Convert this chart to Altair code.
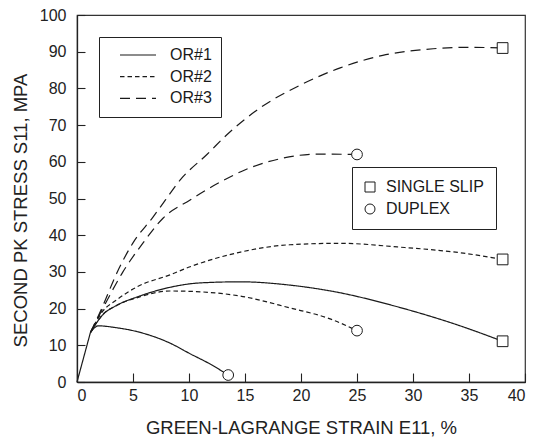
import altair as alt
import pandas as pd

# ---- data (strain %, stress MPa) ----
# shared elastic segment
common_x = [0, 1.2]
common_y = [0, 13.5]

or1_single_x = [1.2, 2.3, 3.5, 5.4, 8.3, 11.0, 14.6, 19.0, 23.0, 28.6, 34.5, 38.0]
or1_single_y = [13.5, 18.3, 20.8, 23.2, 25.8, 27.0, 27.3, 26.4, 24.6, 20.5, 15.0, 11.1]

or1_duplex_x = [1.2, 1.9, 3.5, 5.4, 8.3, 10.1, 12.0, 13.5]
or1_duplex_y = [13.5, 15.3, 14.8, 13.7, 10.6, 7.7, 4.7, 1.9]

or2_single_x = [1.2, 2.3, 3.5, 5.4, 8.3, 10.1, 14.6, 19.0, 23.5, 28.6, 34.5, 38.0]
or2_single_y = [13.5, 19.3, 22.3, 26.0, 29.2, 31.4, 35.4, 37.4, 37.8, 36.8, 35.1, 33.4]

or2_duplex_x = [1.2, 2.3, 3.5, 5.4, 8.3, 10.1, 14.6, 19.0, 22.6, 25.0]
or2_duplex_y = [13.5, 18.4, 20.8, 23.0, 24.8, 24.7, 23.4, 20.2, 17.2, 14.0]

or3_single_x = [1.2, 2.2, 3.6, 5.0, 6.8, 7.9, 9.2, 11.6, 13.6, 16.5, 20.0, 23.5, 27.3, 31.8, 35.0, 38.0]
or3_single_y = [13.5, 20.0, 30.0, 37.9, 45.0, 49.6, 55.0, 62.0, 68.0, 75.0, 81.0, 85.6, 89.0, 90.8, 91.2, 91.0]

or3_duplex_x = [1.2, 2.3, 4.1, 5.9, 7.7, 10.1, 12.8, 15.4, 18.4, 21.4, 25.0]
or3_duplex_y = [13.5, 20.0, 30.0, 37.9, 44.7, 49.6, 54.5, 58.3, 61.0, 62.1, 62.0]

orientations = ["OR#1", "OR#2", "OR#3"]
modes = ["SINGLE SLIP", "DUPLEX"]
x_ticks = [0, 5, 10, 15, 20, 25, 30, 35, 40]
y_ticks = [0, 10, 20, 30, 40, 50, 60, 70, 80, 90, 100]

curves = [
    ("OR#1", "SINGLE SLIP", or1_single_x, or1_single_y),
    ("OR#1", "DUPLEX", or1_duplex_x, or1_duplex_y),
    ("OR#2", "SINGLE SLIP", or2_single_x, or2_single_y),
    ("OR#2", "DUPLEX", or2_duplex_x, or2_duplex_y),
    ("OR#3", "SINGLE SLIP", or3_single_x, or3_single_y),
    ("OR#3", "DUPLEX", or3_duplex_x, or3_duplex_y),
]

rows, ends = [], []
for i, (a, b) in enumerate(zip(common_x, common_y)):
    rows.append({"curve": "common", "orient": "OR#1", "strain": a, "stress": b, "idx": i})
for orient, mode, xs, ys in curves:
    cid = orient + " " + mode
    for i, (a, b) in enumerate(zip(xs, ys)):
        rows.append({"curve": cid, "orient": orient, "strain": a, "stress": b, "idx": i})
    ends.append({"curve": cid, "orient": orient, "mode": mode, "strain": xs[-1], "stress": ys[-1]})

df = pd.DataFrame(rows)
df_end = pd.DataFrame(ends)

FONT = "Liberation Sans"
INK = "#1a1a1a"
MSIZE = 115

xscale = alt.Scale(domain=[0, 40], nice=False, zero=False)
yscale = alt.Scale(domain=[0, 100], nice=False, zero=False)


def xy_noaxis():
    return dict(x=alt.X("strain:Q", scale=xscale, axis=None),
                y=alt.Y("stress:Q", scale=yscale, axis=None))


lines = alt.Chart(df).mark_line(interpolate="monotone", color=INK, strokeWidth=1.2).encode(
    x=alt.X("strain:Q", scale=xscale,
            axis=alt.Axis(values=x_ticks, ticks=False, labelPadding=5, labelFontSize=16,
                          title="GREEN-LAGRANGE STRAIN E11, %", titleFontSize=18.5,
                          titleFontWeight="normal", titlePadding=15)),
    y=alt.Y("stress:Q", scale=yscale,
            axis=alt.Axis(values=y_ticks, ticks=False, labelPadding=11, labelFontSize=16,
                          title="SECOND PK STRESS S11, MPA", titleFontSize=18.5,
                          titleFontWeight="normal", titlePadding=9, titleY=195)),
    detail="curve:N",
    order="idx:Q",
    strokeDash=alt.StrokeDash(
        "orient:N",
        scale=alt.Scale(domain=orientations, range=[[1, 0], [4.5, 3], [10, 6]]),
        legend=alt.Legend(title=None, orient="none", legendX=22, legendY=22,
                          symbolType="stroke", symbolSize=1296, symbolStrokeWidth=1.2,
                          symbolStrokeColor=INK, clipHeight=18, rowPadding=3.7,
                          padding=9, symbolOffset=11, labelOffset=13,
                          labelFontSize=16, labelFont=FONT, labelColor=INK,
                          strokeColor="#222", fillColor="white",
                          labelExpr="datum.label + '\u00a0\u00a0\u00a0\u00a0'"),
    ),
)

# white backing so the curves do not show through the open markers
white_sq = alt.Chart(df_end).transform_filter(
    alt.datum.mode == modes[0]
).mark_square(color="white", opacity=1, size=MSIZE).encode(**xy_noaxis())
white_ci = alt.Chart(df_end).transform_filter(
    alt.datum.mode == modes[1]
).mark_circle(color="white", opacity=1, size=MSIZE).encode(**xy_noaxis())

points = alt.Chart(df_end).mark_point(filled=False, stroke=INK, strokeWidth=1,
                                      size=MSIZE, opacity=1).encode(
    **xy_noaxis(),
    shape=alt.Shape(
        "mode:N",
        scale=alt.Scale(domain=modes, range=["square", "circle"]),
        legend=alt.Legend(title=None, orient="none", legendX=275, legendY=152,
                          symbolSize=100, symbolStrokeWidth=1, symbolOffset=-2, rowPadding=6,
                          padding=12, labelOffset=8, labelFontSize=16, labelFont=FONT,
                          labelColor=INK, strokeColor="#222", fillColor="white",
                          labelExpr="datum.label + '\u00a0'"),
    ),
)

tick_layer = alt.Chart(df_end).mark_point(opacity=0, size=1).encode(
    x=alt.X("strain:Q", scale=xscale,
            axis=alt.Axis(orient="bottom", offset=-9, values=x_ticks, tickSize=9, labels=False,
                          domain=False, title=None, grid=False, zindex=1)),
    y=alt.Y("stress:Q", scale=yscale,
            axis=alt.Axis(orient="left", offset=-8, values=y_ticks, tickSize=8, labels=False,
                          domain=False, title=None, grid=False, zindex=1)),
)

chart = alt.layer(lines, white_sq, white_ci, points, tick_layer).resolve_scale(
    x="independent", y="independent"
).properties(
    width=448, height=367, autosize="none",
    padding={"left": 77, "top": 15, "right": 8, "bottom": 57},
).configure_view(
    stroke="#333", strokeWidth=1.2
).configure_axis(
    grid=False, domainColor="#222", domainWidth=1.3, tickColor="#222", tickWidth=1.1,
    labelColor="#222", titleColor="#222", labelFont=FONT, titleFont=FONT,
).configure_legend(
    labelFont=FONT
)

chart.save("out.html", embed_options={"renderer": "svg", "actions": False})
